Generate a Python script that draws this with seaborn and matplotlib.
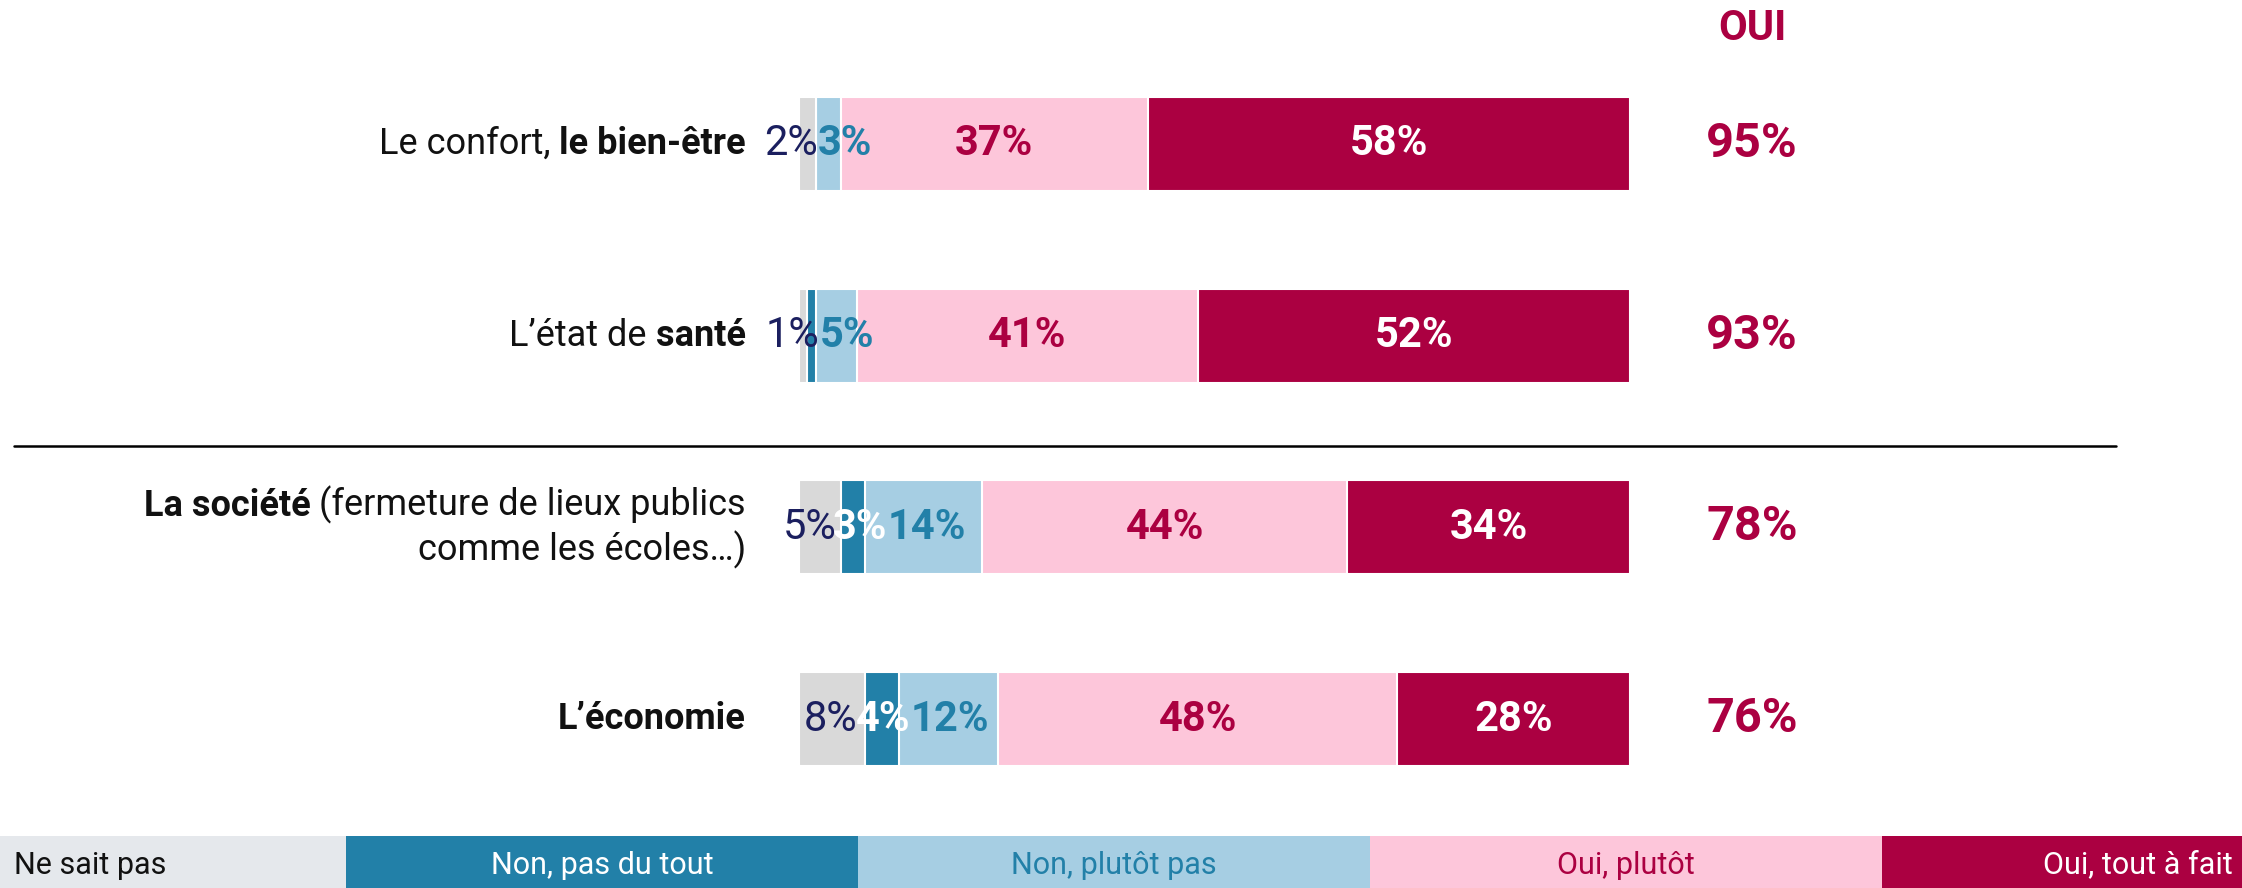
import pandas as pd
import seaborn as sns
import matplotlib.pyplot as plt
from matplotlib.lines import Line2D
import matplotlib.transforms as mtransforms

# Data
categories = ["confort", "sante", "societe", "economie"]
label_lines = [
    [[("Le confort, ", False), ("le bien-être", True)]],
    [[("L’état de ", False), ("santé", True)]],
    [[("La société", True), (" (fermeture de lieux publics", False)],
     [("comme les écoles…)", False)]],
    [[("L’économie", True)]],
]
series_names = ["Ne sait pas", "Non, pas du tout", "Non, plutôt pas", "Oui, plutôt", "Oui, tout à fait"]
nsp = [2, 1, 5, 8]
pas_du_tout = [0, 1, 3, 4]
plutot_pas = [3, 5, 14, 12]
oui_plutot = [37, 41, 44, 48]
tout_a_fait = [58, 52, 34, 28]

bar_colors = ["#d9d9d9", "#2280a8", "#a6cee3", "#fdc6da", "#ab0041"]
legend_colors = ["#e5e8ec", "#2280a8", "#a6cee3", "#fdc6da", "#ab0041"]
label_colors = ["#1b1f5f", "white", "#2280a8", "#ab0041", "white"]
legend_text_colors = ["#111111", "white", "#2280a8", "#ab0041", "white"]
label_weights = ["normal", "bold", "bold", "bold", "bold"]
min_label = [1, 2, 1, 1, 1]
RED = "#ab0041"

sns.set_theme(style="white")
plt.rcParams["font.family"] = ["Roboto", "DejaVu Sans"]

values = pd.DataFrame({
    "cat": categories,
    series_names[0]: nsp,
    series_names[1]: pas_du_tout,
    series_names[2]: plutot_pas,
    series_names[3]: oui_plutot,
    series_names[4]: tout_a_fait,
})
cum = values[series_names].cumsum(axis=1)
starts = cum.shift(1, axis=1).fillna(0)

fig = plt.figure(figsize=(22.42, 8.88), dpi=100)
ax = fig.add_axes([799 / 2242, 1 - 815 / 888, 831 / 2242, 767 / 888])

# stacked bars: draw cumulative totals from the largest down
for name, col in reversed(list(zip(series_names, bar_colors))):
    sns.barplot(x=cum[name], y=values["cat"], orient="h", color=col, width=0.49,
                saturation=1, edgecolor="white", linewidth=1.5, ax=ax)

ax.set_xlim(0, 100)
ax.set_ylim(3.5, -0.5)
ax.set_axis_off()

# value labels inside the segments
row_texts = [[] for _ in categories]
for j, name in enumerate(series_names):
    for i in range(len(categories)):
        v = values[name][i]
        if v < min_label[j]:
            continue
        x = starts[name][i] + v / 2
        t = ax.text(x, i, f"{v}%", ha="center", va="center", fontsize=30,
                    color=label_colors[j], fontweight=label_weights[j])
        row_texts[i].append(t)

# push overlapping small labels apart
fig.canvas.draw()
renderer = fig.canvas.get_renderer()
inv = ax.transData.inverted()
for texts in row_texts:
    for a, b in zip(texts[:-1], texts[1:]):
        ea = a.get_window_extent(renderer)
        eb = b.get_window_extent(renderer)
        overlap_px = ea.x1 - eb.x0
        if overlap_px > 0:
            d = inv.transform((overlap_px, 0))[0] - inv.transform((0, 0))[0]
            a.set_x(a.get_position()[0] - d / 2)
            b.set_x(b.get_position()[0] + d / 2)

# totals column
ax.text(114.7, -0.6, "OUI", ha="center", va="center", fontsize=30,
        fontweight="bold", color=RED, clip_on=False)
for i in range(len(categories)):
    total = oui_plutot[i] + tout_a_fait[i]
    ax.text(114.7, i, f"{total}%", ha="center", va="center", fontsize=35,
            fontweight="bold", color=RED, clip_on=False)

# category labels with mixed weights
for i, lines in enumerate(label_lines):
    n = len(lines)
    for k, pieces in enumerate(lines):
        y = i + (k - (n - 1) / 2) * 0.23
        prev = None
        for text, bold in reversed(pieces):
            w = "bold" if bold else "normal"
            if prev is None:
                prev = ax.text(-6.4, y, text, ha="right", va="center", fontsize=26,
                               fontweight=w, color="#111111", clip_on=False)
            else:
                prev = ax.annotate(text, xy=(0, 0), xycoords=prev, ha="right",
                                   va="bottom", fontsize=26, fontweight=w,
                                   color="#111111", annotation_clip=False)

# separator between the two groups
trans = mtransforms.blended_transform_factory(fig.transFigure, ax.transData)
fig.add_artist(Line2D([14 / 2242, 2116 / 2242], [1.576, 1.576], transform=trans,
                      color="black", linewidth=1.8))

# legend strip at the bottom
ax_leg = fig.add_axes([0, 0, 1, 52 / 888])
sns.barplot(x=series_names, y=[1] * 5, hue=series_names, palette=legend_colors,
            width=1.0, saturation=1, legend=False, linewidth=0, ax=ax_leg)
ax_leg.set_xlim(-0.176, 4.203)
ax_leg.set_ylim(0, 1)
ax_leg.set_axis_off()
for j, name in enumerate(series_names):
    ax_leg.text(j, 0.44, name, ha="center", va="center", fontsize=22,
                color=legend_text_colors[j])

fig.savefig("out.png", dpi=100)
